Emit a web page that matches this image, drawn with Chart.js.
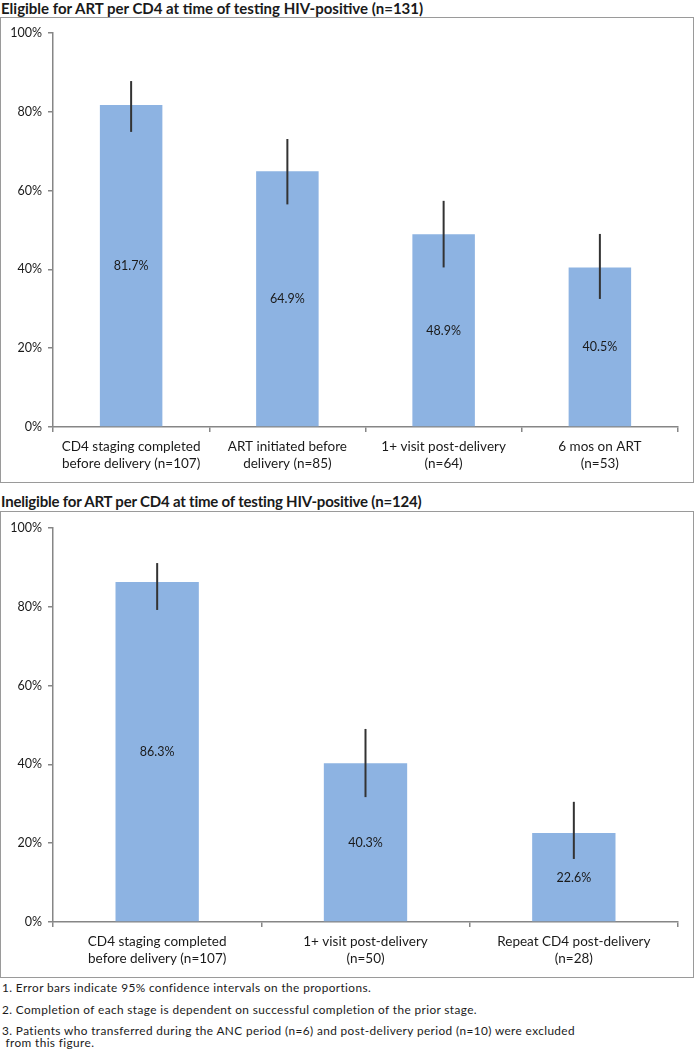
<!DOCTYPE html>
<html>
<head>
<meta charset="utf-8">
<script src="https://cdn.jsdelivr.net/npm/chart.js@4"></script>
<style>
    body { margin: 0; background: #fff; width: 695px; height: 1050px; position: relative; font-family: Lato, "Liberation Sans", sans-serif; color: #1a1a1a; overflow: hidden; }
    .title { position: absolute; left: 1px; font-weight: bold; font-size: 15px; white-space: nowrap; line-height: 16px; }
    .box { position: absolute; left: 0; width: 692px; border: 1px solid #9a9a9a; }
    .box canvas { display: block; }
    .note { position: absolute; left: 2px; font-size: 11.8px; letter-spacing: 0.4px; white-space: nowrap; line-height: 14px; }
</style>
</head>
<body>

<div class="title" style="top:0px">Eligible for ART per CD4 at time of testing HIV-positive (n=131)</div>
<div class="box" id="box1" style="top:17px;height:464px"><canvas id="chart-eligible"></canvas></div>

<div class="title" style="top:493px;letter-spacing:-0.2px">Ineligible for ART per CD4 at time of testing HIV-positive (n=124)</div>
<div class="box" id="box2" style="top:511px;height:465px"><canvas id="chart-ineligible"></canvas></div>

<div class="note" style="top:981px">1. Error bars indicate 95% confidence intervals on the proportions.</div>
<div class="note" style="top:1003px">2. Completion of each stage is dependent on successful completion of the prior stage.</div>
<div class="note" style="top:1024px">3. Patients who transferred during the ANC period (n=6) and post-delivery period (n=10) were excluded</div>
<div class="note" style="top:1036px">&nbsp;from this figure.</div>

<script>
// ===== DATA =====

// Eligible for ART (n=131)
const eligibleLabels = [
    ['CD4 staging completed', 'before delivery (n=107)'],
    ['ART initiated before', 'delivery (n=85)'],
    ['1+ visit post-delivery', '(n=64)'],
    ['6 mos on ART', '(n=53)']
];
const eligibleValues = [81.7, 64.9, 48.9, 40.5];
const eligibleLower = [74.9, 56.5, 40.5, 32.5];
const eligibleUpper = [87.8, 73.1, 57.4, 49.0];

// Ineligible for ART (n=124)
const ineligibleLabels = [
    ['CD4 staging completed', 'before delivery (n=107)'],
    ['1+ visit post-delivery', '(n=50)'],
    ['Repeat CD4 post-delivery', '(n=28)']
];
const ineligibleValues = [86.3, 40.3, 22.6];
const ineligibleLower = [79.2, 31.7, 16.0];
const ineligibleUpper = [91.1, 49.0, 30.5];

const yTicks = [0, 20, 40, 60, 80, 100];

const BAR_COLOR = '#8db3e2';
const AXIS_COLOR = '#868686';
const TEXT_COLOR = '#1a1a1a';
const FONT = 'Lato, "Liberation Sans", sans-serif';

/**
 * Draws the CI whiskers and the value label in the middle of each bar
 */
const errorBarPlugin = {
    id: 'errorBars',
    afterDatasetsDraw(chart, args, opts) {
        const { ctx } = chart;
        const y = chart.scales.y;
        const meta = chart.getDatasetMeta(0);
        ctx.save();
        meta.data.forEach((bar, i) => {
            const v = chart.data.datasets[0].data[i];
            // whisker
            ctx.strokeStyle = '#333';
            ctx.lineWidth = 2;
            ctx.beginPath();
            ctx.moveTo(bar.x, y.getPixelForValue(opts.lower[i]));
            ctx.lineTo(bar.x, y.getPixelForValue(opts.upper[i]));
            ctx.stroke();
            // value label
            ctx.fillStyle = TEXT_COLOR;
            ctx.font = '12.5px ' + FONT;
            ctx.textAlign = 'center';
            ctx.textBaseline = 'middle';
            const mid = (y.getPixelForValue(v) + y.getPixelForValue(0)) / 2;
            ctx.fillText(v.toFixed(1) + '%', bar.x, mid);
        });
        ctx.restore();
    }
};

function makeChart(id, boxId, labels, values, lower, upper, top) {
    const box = document.getElementById(boxId);
    const canvas = document.getElementById(id);
    canvas.width = box.clientWidth;
    canvas.height = box.clientHeight;

    return new Chart(canvas, {
        type: 'bar',
        data: {
            labels: labels,
            datasets: [{
                data: values,
                backgroundColor: BAR_COLOR,
                borderWidth: 0,
                categoryPercentage: 1,
                barPercentage: 0.4
            }]
        },
        options: {
            responsive: false,
            animation: false,
            layout: { padding: { top: top, right: 15, left: 0, bottom: 0 } },
            plugins: {
                legend: { display: false },
                tooltip: { enabled: false },
                errorBars: { lower: lower, upper: upper }
            },
            scales: {
                y: {
                    min: 0,
                    max: 100,
                    afterBuildTicks: (scale) => { scale.ticks = yTicks.map(v => ({ value: v })); },
                    afterFit: (scale) => { scale.width = 52; },
                    ticks: {
                        color: TEXT_COLOR,
                        font: { family: FONT, size: 12.5 },
                        padding: 6,
                        callback: (v) => v + '%'
                    },
                    grid: { drawOnChartArea: false, drawTicks: true, tickLength: 5, color: AXIS_COLOR, lineWidth: 1.5 },
                    border: { color: AXIS_COLOR, width: 1.5 }
                },
                x: {
                    afterFit: (scale) => { scale.height = 55; },
                    ticks: {
                        color: TEXT_COLOR,
                        font: { family: FONT, size: 13.5, lineHeight: 1.25 },
                        padding: 6,
                        maxRotation: 0,
                        autoSkip: false
                    },
                    grid: { offset: true, drawOnChartArea: false, drawTicks: true, tickLength: 5, color: AXIS_COLOR, lineWidth: 1.5 },
                    border: { color: AXIS_COLOR, width: 1.5 }
                }
            }
        },
        plugins: [errorBarPlugin]
    });
}

makeChart('chart-eligible', 'box1', eligibleLabels, eligibleValues, eligibleLower, eligibleUpper, 15);
makeChart('chart-ineligible', 'box2', ineligibleLabels, ineligibleValues, ineligibleLower, ineligibleUpper, 16);
</script>
</body>
</html>
